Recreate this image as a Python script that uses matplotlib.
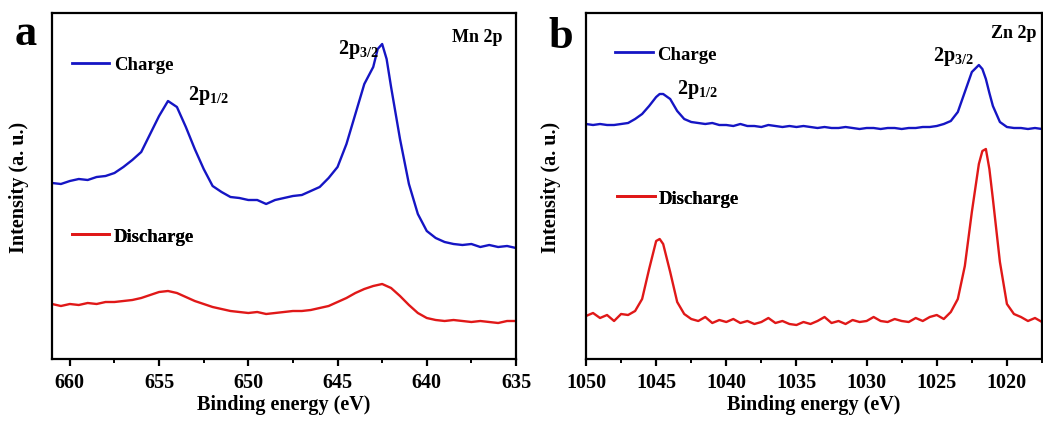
import numpy as np
import matplotlib
matplotlib.use("Agg")
import matplotlib.pyplot as plt
from matplotlib.lines import Line2D
from matplotlib.ticker import MultipleLocator

plt.rcParams['font.family'] = ['Liberation Serif', 'DejaVu Serif']
plt.rcParams['font.weight'] = 'bold'
plt.rcParams['mathtext.fontset'] = 'custom'
plt.rcParams['mathtext.rm'] = 'Liberation Serif:bold'
plt.rcParams['mathtext.bf'] = 'Liberation Serif:bold'
plt.rcParams['mathtext.it'] = 'Liberation Serif:bold'

# ---------------- Panel a : Mn 2p ----------------
mn_energy = [661, 660.5, 660, 659.5, 659, 658.5, 658, 657.5, 657, 656.5, 656, 655.5, 655,
             654.5, 654, 653.5, 653, 652.5, 652, 651.5, 651, 650.5, 650, 649.5, 649,
             648.5, 648, 647.5, 647, 646.5, 646, 645.5, 645, 644.5, 644, 643.5, 643,
             642.75, 642.5, 642.25, 642, 641.5, 641, 640.5, 640, 639.5, 639, 638.5, 638,
             637.5, 637, 636.5, 636, 635.5, 635]
mn_charge = [176, 175, 178, 180, 179, 182, 183, 186, 192, 199, 207, 225, 243,
             258, 252, 232, 210, 190, 173, 167, 162, 161, 159, 159, 155,
             159, 161, 163, 164, 168, 172, 181, 192, 215, 245, 275, 292,
             310, 315, 300, 272, 220, 175, 145, 128, 121, 117, 115, 114,
             115, 112, 114, 112, 113, 111]
mn_discharge = [55, 53, 55, 54, 56, 55, 57, 57, 58, 59, 61, 64, 67,
                68, 66, 62, 58, 55, 52, 50, 48, 47, 46, 47, 45,
                46, 47, 48, 48, 49, 51, 53, 57, 61, 66, 70, 73,
                74, 75, 73, 71, 63, 54, 46, 41, 39, 38, 39, 38,
                37, 38, 37, 36, 38, 38]

# ---------------- Panel b : Zn 2p ----------------
zn_energy = [1050, 1049.5, 1049, 1048.5, 1048, 1047.5, 1047, 1046.5, 1046, 1045.5, 1045,
             1044.75, 1044.5, 1044, 1043.5, 1043, 1042.5, 1042, 1041.5, 1041, 1040.5, 1040,
             1039.5, 1039, 1038.5, 1038, 1037.5, 1037, 1036.5, 1036, 1035.5, 1035,
             1034.5, 1034, 1033.5, 1033, 1032.5, 1032, 1031.5, 1031, 1030.5, 1030,
             1029.5, 1029, 1028.5, 1028, 1027.5, 1027, 1026.5, 1026, 1025.5, 1025,
             1024.5, 1024, 1023.5, 1023, 1022.5, 1022, 1021.75, 1021.5, 1021.25, 1021,
             1020.5, 1020, 1019.5, 1019, 1018.5, 1018, 1017.5]
zn_charge = [235, 234, 235, 234, 234, 235, 236, 240, 245, 253, 262,
             265, 265, 260, 248, 240, 237, 236, 235, 236, 234, 234,
             233, 235, 233, 233, 232, 234, 233, 232, 233, 232,
             233, 232, 231, 232, 231, 231, 232, 231, 230, 231,
             231, 230, 231, 231, 230, 231, 231, 232, 232, 233,
             235, 238, 247, 267, 287, 294, 290, 280, 266, 253,
             237, 232, 231, 231, 230, 231, 230]
zn_discharge = [43, 46, 41, 44, 38, 45, 44, 48, 60, 90, 118,
                120, 115, 87, 57, 45, 40, 38, 42, 36, 39, 37,
                40, 36, 38, 35, 37, 41, 36, 38, 35, 34,
                37, 35, 38, 42, 36, 38, 35, 39, 37, 38,
                42, 38, 37, 40, 38, 37, 41, 38, 42, 44,
                40, 47, 60, 93, 147, 195, 208, 210, 190, 160,
                97, 55, 45, 42, 38, 41, 37]

mn_ticks = [660, 655, 650, 645, 640, 635]
zn_ticks = [1050, 1045, 1040, 1035, 1030, 1025, 1020]

BLUE = '#1515c4'
RED = '#e01818'

fig = plt.figure(figsize=(10.43, 4.27), dpi=100)
axa = fig.add_axes([52/1043, 1-360/427, 464/1043, 346/427])
axb = fig.add_axes([586/1043, 1-360/427, 456/1043, 346/427])


def style(ax, xlim, ticks):
    ax.set_xlim(*xlim)
    ax.set_ylim(0, 346)
    ax.set_xticks(ticks)
    ax.set_xticklabels([str(t) for t in ticks])
    ax.xaxis.set_minor_locator(MultipleLocator(2.5))
    ax.set_yticks([])
    for s in ax.spines.values():
        s.set_linewidth(1.6)
    ax.tick_params(axis='x', which='major', direction='out', length=5, width=1.6,
                   labelsize=14.5, pad=4, top=False)
    ax.tick_params(axis='x', which='minor', direction='out', length=3, width=1.4, top=False)
    ax.set_xlabel('Binding energy (eV)', fontsize=14.5, fontweight='bold')
    ax.set_ylabel('Intensity (a. u.)', fontsize=14.5, fontweight='bold')


# panel a
axa.plot(mn_energy, mn_charge, color=BLUE, lw=1.7)
axa.plot(mn_energy, mn_discharge, color=RED, lw=1.7)
style(axa, (661, 635), mn_ticks)
axa.xaxis.set_label_coords(0.5, -0.101)
axa.yaxis.set_label_coords(-0.050, 0.5)

# panel b
axb.plot(zn_energy, zn_charge, color=BLUE, lw=1.7)
axb.plot(zn_energy, zn_discharge, color=RED, lw=1.7)
style(axb, (1050, 1017.5), zn_ticks)
axb.xaxis.set_label_coords(0.5, -0.101)
axb.yaxis.set_label_coords(-0.054, 0.5)


def leg(ax, color, label, x, y):
    h = Line2D([], [], color=color, lw=2)
    lg = ax.legend(handles=[h], labels=[label], loc='center left', bbox_to_anchor=(x, y),
                   frameon=False, borderpad=0, borderaxespad=0, handlelength=2.0,
                   handletextpad=0.25, prop={'family': 'Liberation Serif', 'weight': 'bold', 'size': 13.5})
    ax.add_artist(lg)


leg(axa, BLUE, 'Charge', 0.043, 0.85)
leg(axa, RED, 'Discharge', 0.043, 0.355)
leg(axb, BLUE, 'Charge', 0.064, 0.881)
leg(axb, RED, 'Discharge', 0.068, 0.465)

# annotations
axa.text(653.4, 264, r'$\mathregular{2p_{1/2}}$', fontsize=14.5, ha='left', va='center')
axa.text(645.0, 310, r'$\mathregular{2p_{3/2}}$', fontsize=14.5, ha='left', va='center')
axa.text(0.970, 0.931, 'Mn 2p', transform=axa.transAxes, fontsize=13, ha='right', va='center')

axb.text(1043.5, 270, r'$\mathregular{2p_{1/2}}$', fontsize=14.5, ha='left', va='center')
axb.text(1025.3, 303, r'$\mathregular{2p_{3/2}}$', fontsize=14.5, ha='left', va='center')
axb.text(0.989, 0.945, 'Zn 2p', transform=axb.transAxes, fontsize=13, ha='right', va='center')

fig.text(15/1043, 1-45/427, 'a', fontsize=32, fontweight='bold', ha='left', va='baseline')
fig.text(548/1043, 1-48/427, 'b', fontsize=32, fontweight='bold', ha='left', va='baseline')

fig.savefig('out.png', dpi=100)
